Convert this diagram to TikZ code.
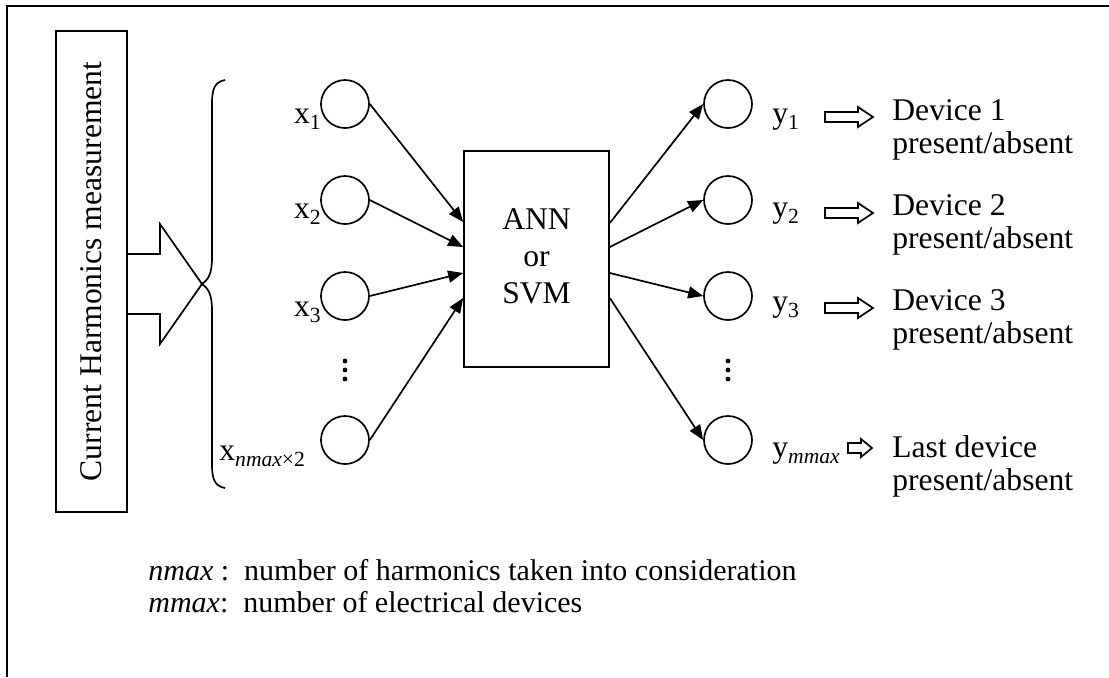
\documentclass[tikz,border=0pt]{standalone}
\usepackage{fontspec}
\setmainfont{Liberation Serif}
\usetikzlibrary{arrows.meta,calc}
\newcommand{\sbs}[1]{\raisebox{-0.22em}{\fontsize{10.8pt}{11pt}\selectfont #1}}
\begin{document}
\begin{tikzpicture}[x=0.5pt,y=-0.5pt,
  every node/.style={font=\fontsize{15.8pt}{16.5pt}\selectfont, inner sep=0pt},
  ln/.style={line width=0.85pt},
  neuron/.style={draw, circle, line width=0.85pt, minimum size=24pt, inner sep=0pt},
  boxnode/.style={draw, rectangle, line width=0.85pt, inner sep=0pt},
  conn/.style={line width=0.85pt, -{Triangle[length=7.5pt,width=6pt]}},
  lbl/.style={anchor=base west},
  legend/.style={anchor=base west, font=\fontsize{15pt}{16pt}\selectfont}
]
\useasboundingbox (0,0) rectangle (1109,677);
% outer frame (only top and left visible)
\draw[line width=1.1pt] (7,677) -- (7,6) -- (1109,6);

% measurement box
\node[boxnode, minimum width=35.5pt, minimum height=240.5pt] (meas) at (91.5,271.5) {};
\node[rotate=90] (meastxt) at (meas.center) {Current Harmonics measurement};

% big block arrow
\draw[ln, line join=miter] (meas.east |- 0,254) -- (160,254) -- (160,224) -- (202,284) -- (160,344) -- (160,314) -- (meas.east |- 0,314);

% brace
\draw[ln] (225,80) .. controls (214,82) and (212,90) .. (212,104) -- (212,258)
  .. controls (212,274) and (208,280) .. (202,284)
  .. controls (208,288) and (212,294) .. (212,310) -- (212,464)
  .. controls (212,478) and (214,486) .. (225,488);

% input neurons
\node[neuron] (i1) at (345,104) {};
\node[neuron] (i2) at (345,200) {};
\node[neuron] (i3) at (345,296) {};
\node[neuron] (i4) at (345,440) {};
\node[anchor=base east] (lx1) at (321,123) {x\sbs{1}};
\node[anchor=base east] (lx2) at (321,218) {x\sbs{2}};
\node[anchor=base east] (lx3) at (321,316) {x\sbs{3}};
\node[lbl] (lx4) at (219,460) {x\sbs{\textit{nmax}×2}};
\foreach \yy in {361,370,379} \fill (345,\yy) circle (1.2pt);

% ANN box
\node[boxnode, minimum width=72.5pt, minimum height=108pt] (ann) at (536.5,259) {};
\node[align=center, font=\fontsize{15.8pt}{18.5pt}\selectfont] (anntxt) at (536.5,256) {ANN\\or\\SVM};
\path (ann.west) ++(0,-37) coordinate (a1) (ann.west) ++(0,-12) coordinate (a2)
      (ann.west) ++(0,14) coordinate (a3) (ann.west) ++(0,39) coordinate (a4);
\path (ann.east) ++(0,-36) coordinate (b1) (ann.east) ++(0,-12) coordinate (b2)
      (ann.east) ++(0,14) coordinate (b3) (ann.east) ++(0,39) coordinate (b4);

% output neurons
\node[neuron] (o1) at (728,104) {};
\node[neuron] (o2) at (728,200) {};
\node[neuron] (o3) at (728,296) {};
\node[neuron] (o4) at (728,440) {};
\foreach \yy in {361,370,379} \fill (728,\yy) circle (1.2pt);

% connections
\draw[conn] (i1.east) -- (a1);
\draw[conn] (i2.east) -- (a2);
\draw[conn] (i3.east) -- (a3);
\draw[conn] (i4.east) -- (a4);
\draw[conn] (b1) -- (o1.west);
\draw[conn] (b2) -- (o2.west);
\draw[conn] (b3) -- (o3.west);
\draw[conn] (b4) -- (o4.west);

% output labels
\node[lbl] (ly1) at (772,123) {y\sbs{1}};
\node[lbl] (ly2) at (772,217) {y\sbs{2}};
\node[lbl] (ly3) at (772,311) {y\sbs{3}};
\node[lbl] (ly4) at (772,457) {y\sbs{\textit{mmax}}};

% small block arrows
\foreach \c in {117,213,308} {
  \draw[line width=0.85pt, line join=miter] (825,\c-5) -- (858,\c-5) -- (858,\c-10) -- (873,\c) -- (858,\c+10) -- (858,\c+5) -- (825,\c+5) -- cycle;
}
\draw[line width=0.85pt, line join=miter] (848,443) -- (861,443) -- (861,439) -- (872,448) -- (861,457) -- (861,453) -- (848,453) -- cycle;

% device texts
\node[lbl] (d1a) at (892,120) {Device 1};
\node[lbl] (d1b) at (892,153) {present/absent};
\node[lbl] (d2a) at (892,215) {Device 2};
\node[lbl] (d2b) at (892,248) {present/absent};
\node[lbl] (d3a) at (892,310) {Device 3};
\node[lbl] (d3b) at (892,343) {present/absent};
\node[lbl] (d4a) at (892,457) {Last device};
\node[lbl] (d4b) at (892,490) {present/absent};

% legend
\node[legend] (leg1) at (148,580) {\textit{nmax} :\ \ number of harmonics taken into consideration};
\node[legend] (leg2) at (148,612) {\textit{mmax}:\ \ number of electrical devices};
\end{tikzpicture}
\end{document}
